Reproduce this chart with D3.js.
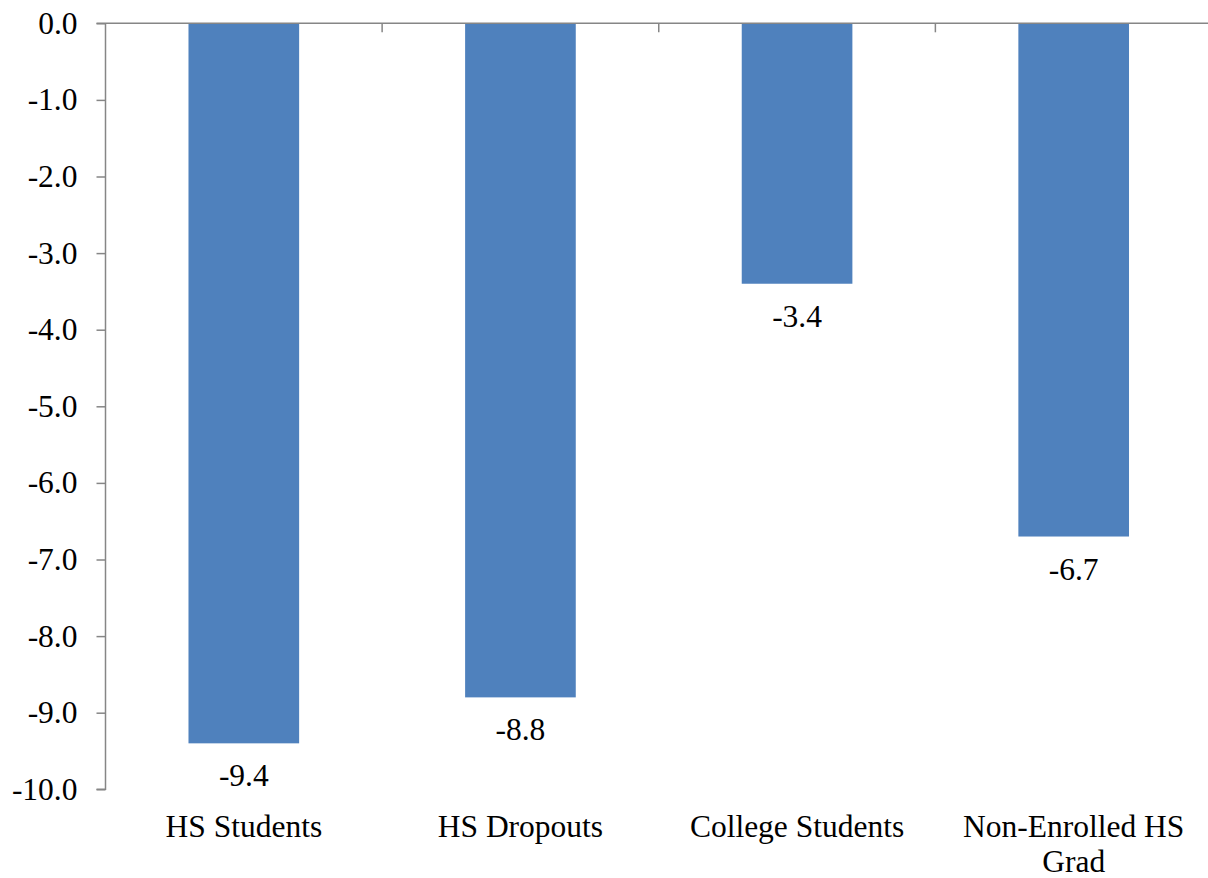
<!DOCTYPE html>
<html>
<head>
<meta charset="utf-8">
<script src="https://cdn.jsdelivr.net/npm/d3@7"></script>
</head>
<body style="margin:0">
<svg id="chart" width="1208" height="878"></svg>
<script>
// Change by group (percentage points)
const categories = ["HS Students", "HS Dropouts", "College Students", "Non-Enrolled HS Grad"];
const values = [-9.4, -8.8, -3.4, -6.7];
const yTicks = [0, -1, -2, -3, -4, -5, -6, -7, -8, -9, -10];

const W = 1208, H = 878;
const margin = { left: 105.5, top: 23.3, right: -4, bottom: 88.7 };
const axisColor = "#868686";
const barColor = "#4F81BD";
const fontFamily = "Liberation Serif";
const fontSize = "31.5px";

const fmt = d => d3.format(".1f")(d).replace("\u2212", "-");

const svg = d3.select("#chart").attr("font-family", fontFamily);

const x = d3.scaleBand()
  .domain(categories)
  .range([margin.left, W - margin.right])
  .paddingInner(0.6)
  .paddingOuter(0.3);

const y = d3.scaleLinear()
  .domain([0, -10])
  .range([margin.top, H - margin.bottom]);

// Bars hang down from the zero line
svg.append("g")
  .selectAll("rect")
  .data(values)
  .join("rect")
  .attr("x", (d, i) => x(categories[i]))
  .attr("width", x.bandwidth())
  .attr("y", y(0))
  .attr("height", d => y(d) - y(0))
  .attr("fill", barColor);

// Value labels below each bar
svg.append("g")
  .selectAll("text")
  .data(values)
  .join("text")
  .attr("x", (d, i) => x(categories[i]) + x.bandwidth() / 2)
  .attr("y", d => y(d) + 43)
  .style("text-anchor", "middle")
  .style("font-family", fontFamily)
  .style("font-size", fontSize)
  .text(fmt);

// Y axis on the left
const yAxis = d3.axisLeft(y)
  .tickValues(yTicks)
  .tickSize(9)
  .tickPadding(19)
  .tickFormat(fmt);

const gy = svg.append("g")
  .attr("transform", `translate(${margin.left},0)`)
  .call(yAxis)
  .attr("font-family", fontFamily)
  .attr("font-size", null);
gy.select(".domain").attr("stroke", axisColor).attr("stroke-width", 1.5)
  .attr("d", `M-9,${y(-10)}H0V${y(0)}`);
gy.selectAll(".tick line").attr("stroke", axisColor).attr("stroke-width", 1.5);
gy.selectAll(".tick text")
  .style("font-family", fontFamily)
  .style("font-size", fontSize);

// Category axis along the zero line, with tick marks between groups
const step = x.step();
const bounds = d3.range(1, categories.length).map(i => margin.left + i * step);
svg.append("line")
  .attr("x1", margin.left - 9).attr("x2", W)
  .attr("y1", y(0)).attr("y2", y(0))
  .attr("stroke", axisColor).attr("stroke-width", 1.5);
svg.append("g")
  .selectAll("line")
  .data(bounds)
  .join("line")
  .attr("x1", d => d).attr("x2", d => d)
  .attr("y1", y(0)).attr("y2", y(0) + 9)
  .attr("stroke", axisColor).attr("stroke-width", 1.5);

// Category names beneath the plot, wrapped onto two lines where needed
const wrapped = {
  "Non-Enrolled HS Grad": ["Non-Enrolled HS", "Grad"]
};
const catLabels = svg.append("g")
  .selectAll("text")
  .data(categories)
  .join("text")
  .attr("x", d => x(d) + x.bandwidth() / 2)
  .attr("y", 836.5)
  .style("text-anchor", "middle")
  .style("font-family", fontFamily)
  .style("font-size", fontSize);
catLabels.each(function(d) {
  const lines = wrapped[d] || [d];
  const t = d3.select(this);
  lines.forEach((ln, i) => {
    t.append("tspan")
      .attr("x", x(d) + x.bandwidth() / 2)
      .attr("dy", i === 0 ? 0 : 35)
      .text(ln);
  });
});
</script>
</body>
</html>
